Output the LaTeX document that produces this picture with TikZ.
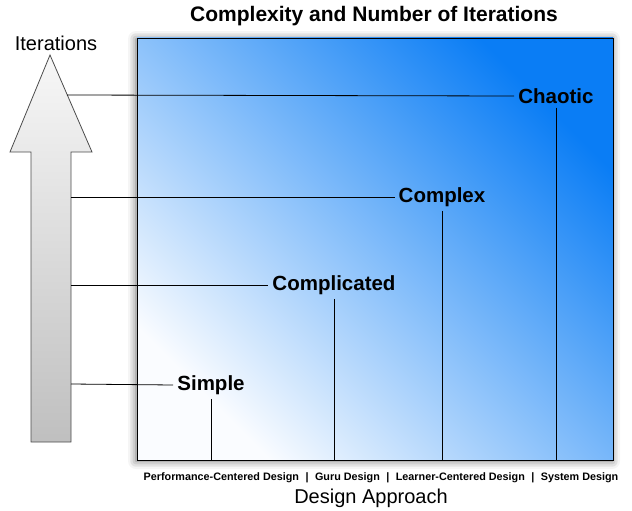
\documentclass[tikz,border=0pt]{standalone}
\usepackage{fontspec}
\setmainfont{Liberation Sans}
\usetikzlibrary{shadows.blur}

\definecolor{panelblue}{RGB}{10,125,245}
\definecolor{panelwhite}{RGB}{250,252,255}

\newcommand{\sepbar}{\hspace{0.6em}|\hspace{0.6em}}

\tikzset{
  level/.style={font=\fontsize{20.5}{22}\selectfont\bfseries, text=black, inner sep=4pt},
  link/.style={draw=black, line width=0.8pt},
  panel/.style={draw=black, line width=0.9pt, shading=axis, bottom color=panelwhite,
    top color=panelblue, shading angle=-45,
    blur shadow={shadow xshift=-1pt, shadow yshift=-1pt, shadow blur radius=8pt, shadow opacity=60}},
}

\begin{document}
\begin{tikzpicture}[x=1pt,y=-1pt]
    \useasboundingbox (0,0) rectangle (632,511);

    % Background panel
    \node[panel, minimum width=476, minimum height=422, inner sep=0pt] (panel) at (375,249) {};

    % Titles
    \node[font=\fontsize{21}{23}\selectfont\bfseries] (title) at (374,16) {Complexity and Number of Iterations};
    \node[font=\fontsize{20}{22}\selectfont] (iter) at (56,43) {Iterations};
    \node[font=\fontsize{20}{22}\selectfont] (approach) at (371,498) {Design Approach};
    \node[font=\fontsize{10.8}{12}\selectfont\bfseries] (designs) at (381,478)
        {Performance-Centered Design\sepbar Guru Design\sepbar Learner-Centered Design\sepbar System Design};

    % Iterations arrow
    \shade[draw=black!70, line width=0.8pt, top color=gray!6, bottom color=gray!50]
        (31,442) -- (31,152) -- (10,152) -- (50,55) -- (92,152) -- (71,152) -- (71,442) -- cycle;
    \coordinate (a4) at (67,95);
    \coordinate (a3) at (71,197);
    \coordinate (a2) at (71,285);
    \coordinate (a1) at (71,384);

    % Levels
    \node[level] (simple) at (211,385) {Simple};
    \node[level] (complicated) at (334,285) {Complicated};
    \node[level] (complex) at (442,197) {Complex};
    \node[level] (chaotic) at (556,96) {Chaotic};

    \foreach \lvl/\pt in {simple/a1, complicated/a2, complex/a3, chaotic/a4} {
        \draw[link] (\pt) -- (\lvl.west);
        \draw[link] (\lvl.south) -- (\lvl.south |- panel.south);
    }
\end{tikzpicture}
\end{document}
